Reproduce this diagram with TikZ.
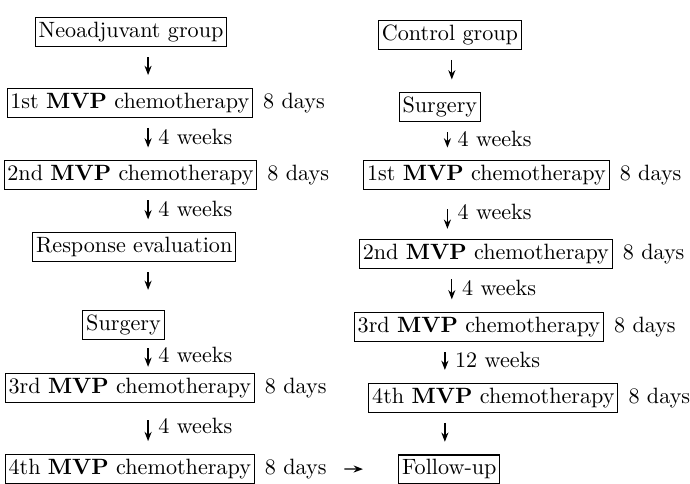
\documentclass[tikz,border=0pt]{standalone}
\usetikzlibrary{arrows.meta,positioning}
\begin{document}
\begin{tikzpicture}[
  box/.style={draw,line width=0.5pt,inner xsep=1.5pt,inner ysep=1.8pt,text height=7.2pt,text depth=2.3pt},
  note/.style={text height=7.2pt,text depth=2.3pt},
  wk/.style={midway,right,xshift=1pt,note},
  flow/.style={line width=0.6pt,-{Stealth[length=4.2pt,width=3.2pt]},shorten <=0.16cm,shorten >=0.2cm}]
\useasboundingbox (0,0) rectangle (10.95,7.68);

% arrow columns
\coordinate (aL) at (2.35,0);
\coordinate (aR1) at (7.17,0);
\coordinate (aR2) at (7.10,0);
\coordinate (aR3) at (7.06,0);

% neoadjuvant group
\node[box] (neo) at (2.08,7.17) {Neoadjuvant group};
\node[box] (ch1L) at (2.06,6.05) {1st \textbf{MVP} chemotherapy};
\node[box] (ch2L) at (2.07,4.90) {2nd \textbf{MVP} chemotherapy};
\node[box] (resp) at (2.13,3.76) {Response evaluation};
\node[box] (surgL) at (1.96,2.52) {Surgery};
\node[box] (ch3L) at (2.06,1.52) {3rd \textbf{MVP} chemotherapy};
\node[box] (ch4L) at (2.06,0.24) {4th \textbf{MVP} chemotherapy};

\node[note,right=1pt of ch1L] (d1L) {8 days};
\node[note,right=1pt of ch2L] (d2L) {8 days};
\node[note,right=1pt of ch3L] (d3L) {8 days};
\node[note,right=1pt of ch4L] (d4L) {8 days};

% control group
\node[box] (ctrl) at (7.14,7.13) {Control group};
\node[box] (surgR) at (6.98,5.98) {Surgery};
\node[box] (ch1R) at (7.72,4.90) {1st \textbf{MVP} chemotherapy};
\node[box] (ch2R) at (7.71,3.65) {2nd \textbf{MVP} chemotherapy};
\node[box] (ch3R) at (7.60,2.49) {3rd \textbf{MVP} chemotherapy};
\node[box] (ch4R) at (7.83,1.37) {4th \textbf{MVP} chemotherapy};
\node[box] (fup) at (7.13,0.23) {Follow-up};

\node[note,right=1pt of ch1R] (d1R) {8 days};
\node[note,right=1pt of ch2R] (d2R) {8 days};
\node[note,right=1pt of ch3R] (d3R) {8 days};
\node[note,right=1pt of ch4R] (d4R) {8 days};

\draw[flow] (neo.south -| aL) -- (ch1L.north -| aL);
\draw[flow] (ch1L.south -| aL) -- (ch2L.north -| aL) node[wk] {4 weeks};
\draw[flow] (ch2L.south -| aL) -- (resp.north -| aL) node[wk] {4 weeks};
\draw[flow,shorten >=0.32cm] (resp.south -| aL) -- (surgL.north -| aL);
\draw[flow,shorten <=0.13cm,shorten >=0.1cm] (surgL.south -| aL) -- (ch3L.north -| aL) node[wk] {4 weeks};
\draw[flow,shorten <=0.27cm] (ch3L.south -| aL) -- (ch4L.north -| aL) node[wk] {4 weeks};

\draw[flow] (ctrl.south -| aR1) -- (surgR.north -| aR1);
\draw[flow] (surgR.south -| aR2) -- (ch1R.north -| aR2) node[wk] {4 weeks};
\draw[flow,shorten <=0.3cm,shorten >=0.16cm] (ch1R.south -| aR2) -- (ch2R.north -| aR2) node[wk] {4 weeks};
\draw[flow] (ch2R.south -| aR1) -- (ch3R.north -| aR1) node[wk] {4 weeks};
\draw[flow] (ch3R.south -| aR3) -- (ch4R.north -| aR3) node[wk] {12 weeks};
\draw[flow] (ch4R.south -| aR3) -- (fup.north -| aR3);

\draw[flow,shorten <=0.16cm,shorten >=0.56cm] (d4L.east) -- (fup.west);
\end{tikzpicture}
\end{document}
